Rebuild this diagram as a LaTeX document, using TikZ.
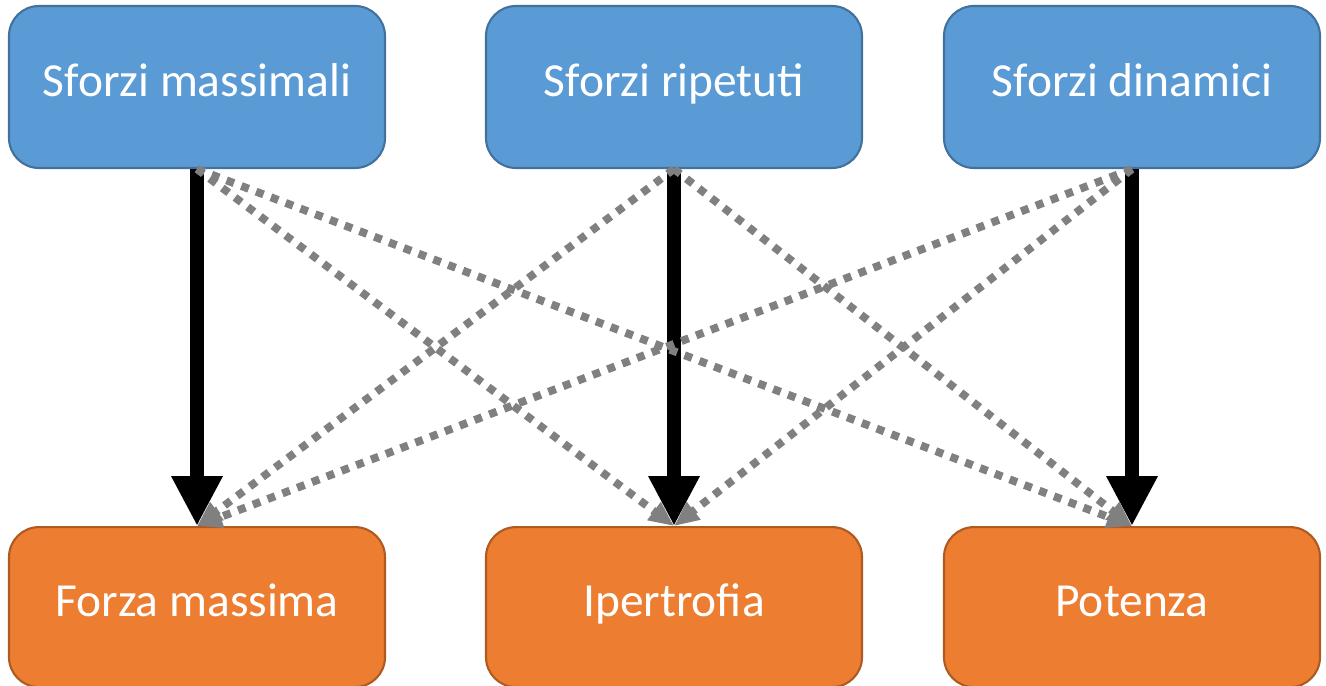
\documentclass[tikz,border=0pt]{standalone}
\usepackage{fontspec}
\setmainfont{Carlito}
\usepackage{xcolor}
\usepackage{tikz}
\usetikzlibrary{arrows.meta,positioning}
\definecolor{topblue}{HTML}{5B9BD5}
\definecolor{topbluedark}{HTML}{41719C}
\definecolor{outorange}{HTML}{ED7D31}
\definecolor{outorangedark}{HTML}{AE5A21}
\definecolor{linkgray}{HTML}{808080}

\begin{document}
\begin{tikzpicture}[
  stimbox/.style={rectangle,draw=topbluedark,fill=topblue,line width=1.2pt,rounded corners=0.6cm,minimum width=7.52cm,minimum height=3.24cm,align=center,text=white,text height=16pt,text depth=5pt,font=\fontsize{27}{32}\selectfont},
  goalbox/.style={rectangle,draw=outorangedark,fill=outorange,line width=1.2pt,rounded corners=0.6cm,minimum width=7.52cm,minimum height=3.2cm,align=center,text=white,text height=16pt,text depth=5pt,font=\fontsize{27}{32}\selectfont},
  mainarr/.style={-{Triangle[length=1cm,width=0.96cm]},line width=8.5pt,draw=black},
  sidearr/.style={-{Triangle[length=0.5cm,width=0.42cm]},line width=4.5pt,draw=linkgray,dash pattern=on 4.5pt off 4.5pt}
]
\useasboundingbox (0,0) rectangle (26.52,13.72);
\node[stimbox] (smax) at (3.94,11.98) {Sforzi massimali};
\node[stimbox] (srip) at (13.48,11.98) {Sforzi ripetuti};
\node[stimbox] (sdin) at (22.64,11.98) {Sforzi dinamici};
\node[goalbox,below=7.14cm of smax] (fmax) {Forza massima};
\node[goalbox,below=7.14cm of srip] (iper) {Ipertrofia};
\node[goalbox,below=7.14cm of sdin] (pot) {Potenza};
\draw[mainarr] (smax.south)--(fmax.north);
\draw[mainarr] (srip.south)--(iper.north);
\draw[mainarr] (sdin.south)--(pot.north);
\draw[sidearr] (smax.south)--(iper.north);
\draw[sidearr] (smax.south)--(pot.north);
\draw[sidearr] (srip.south)--(fmax.north);
\draw[sidearr] (srip.south)--(pot.north);
\draw[sidearr] (sdin.south)--(fmax.north);
\draw[sidearr] (sdin.south)--(iper.north);
\end{tikzpicture}
\end{document}
